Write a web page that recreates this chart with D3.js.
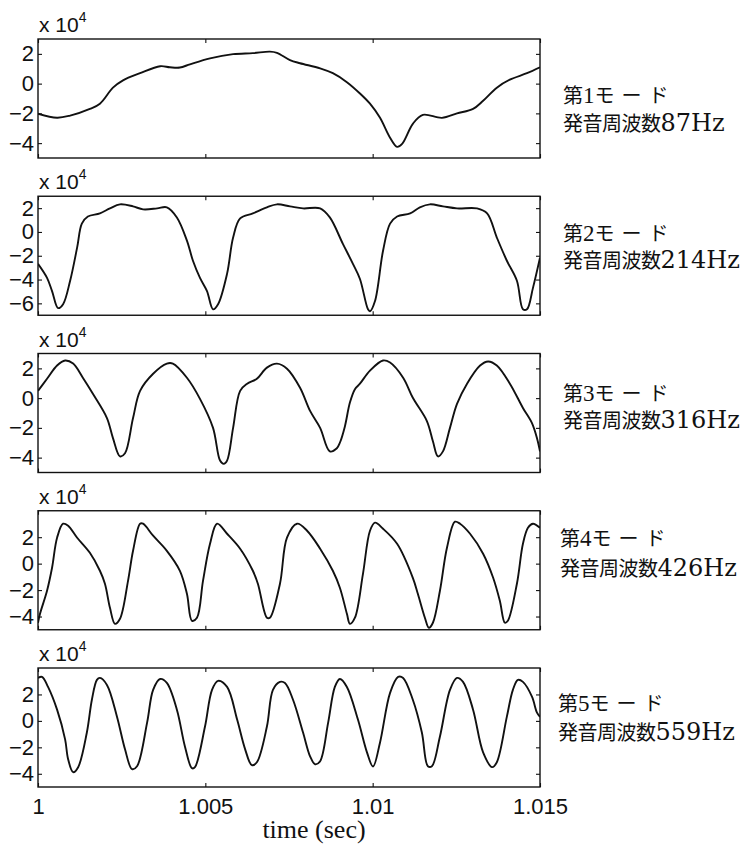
<!DOCTYPE html>
<html>
<head>
<meta charset="utf-8">
<script src="https://d3js.org/d3.v7.min.js"></script>
<style>
  body { margin: 0; background: #fff; }
  .frame { display: block; }
  .axis text { font-family: "Liberation Sans", Arial, sans-serif; font-size: 22px; fill: #111; }
  .axis line { stroke: #111; stroke-width: 1.1; }
  .box { fill: none; stroke: #111; stroke-width: 1.4; }
  .wave { fill: none; stroke: #111; stroke-width: 1.9; stroke-linejoin: round; }
</style>
</head>
<body>
<div id="plot"></div>
<script>
const FRAME_WIDTH = 751;
const FRAME_HEIGHT = 845;
const MARGINS = {left: 38, top: 39};
const VIS_WIDTH = 502;
const PANEL_HEIGHT = 119;
const PANEL_STEP = 157.25;

// time: ms after t = 1 s, values: units of 10^4
const mode1Time = [0, 0.57, 0.96, 1.55, 1.85, 2.24, 2.54, 3.05, 3.65, 3.94, 4.24, 4.54, 5.14, 5.83, 6.42, 6.93, 7.14, 7.53, 7.83, 8.43, 8.81, 9.23, 9.62, 9.92, 10.22, 10.52, 10.73, 10.88, 11.20, 11.50, 12.07, 12.52, 13.00, 13.30, 13.71, 14.10, 14.61, 15.00];
const mode1Value = [-2.02, -2.29, -2.15, -1.7, -1.35, -0.27, 0.22, 0.7, 1.17, 1.1, 1.08, 1.3, 1.7, 1.98, 2.05, 2.15, 2.07, 1.58, 1.37, 1.03, 0.7, 0.1, -0.66, -1.35, -2.3, -3.64, -4.25, -4.05, -2.7, -2.1, -2.3, -2.0, -1.7, -1.15, -0.27, 0.27, 0.7, 1.1];

const mode2Time = [0, 0.27, 0.42, 0.60, 0.75, 0.96, 1.17, 1.31, 1.49, 1.85, 2.15, 2.45, 2.84, 3.14, 3.56, 3.85, 4.15, 4.45, 4.63, 4.84, 5.05, 5.23, 5.38, 5.65, 5.83, 6.04, 6.42, 6.84, 7.14, 7.53, 7.92, 8.43, 8.72, 9.11, 9.41, 9.62, 9.86, 9.92, 10.07, 10.31, 10.52, 10.73, 11.12, 11.41, 11.71, 12.10, 12.52, 13.12, 13.42, 13.71, 14.01, 14.31, 14.49, 14.61, 14.79, 15.00];
const mode2Value = [-2.68, -3.86, -4.97, -6.4, -6.07, -4.1, -1.3, 0.7, 1.3, 1.56, 1.98, 2.32, 2.15, 1.9, 1.98, 2.07, 1.22, -0.73, -2.42, -3.86, -4.97, -6.5, -6.07, -3.5, -0.47, 1.14, 1.56, 2.07, 2.32, 2.15, 1.98, 1.98, 1.22, -1.0, -2.68, -3.95, -6.5, -6.66, -5.8, -1.58, 0.7, 1.3, 1.56, 2.07, 2.32, 2.15, 1.98, 1.98, 1.56, -0.47, -2.42, -4.1, -6.5, -6.5, -4.7, -2.17];

const mode3Time = [0, 0.27, 0.57, 0.81, 1.05, 1.34, 1.64, 2.06, 2.24, 2.45, 2.60, 2.84, 3.05, 3.44, 3.85, 4.03, 4.45, 4.84, 5.23, 5.44, 5.55, 5.65, 5.83, 6.04, 6.25, 6.54, 6.84, 7.14, 7.44, 7.83, 8.13, 8.43, 8.72, 8.93, 9.02, 9.17, 9.32, 9.47, 9.62, 9.92, 10.31, 10.52, 10.91, 11.20, 11.62, 11.80, 11.95, 12.10, 12.31, 12.52, 12.82, 13.21, 13.45, 13.71, 14.10, 14.49, 14.76, 14.91, 15.00];
const mode3Value = [0.49, 1.3, 2.19, 2.53, 2.32, 1.37, 0.29, -1.34, -2.69, -3.92, -3.71, -1.34, 0.49, 1.64, 2.32, 2.32, 1.37, -0.05, -2.0, -4.2, -4.42, -4.2, -2.0, 0.49, 0.97, 1.3, 2.05, 2.32, 1.98, 0.7, -0.86, -2.0, -3.58, -3.37, -3.0, -1.9, -0.3, 0.6, 0.97, 1.85, 2.53, 2.39, 1.37, 0.02, -1.54, -2.9, -3.92, -3.58, -2.0, -0.39, 0.97, 2.19, 2.46, 2.19, 0.97, -0.66, -1.68, -2.69, -3.58];

const mode4Time = [0, 0.06, 0.27, 0.42, 0.57, 0.75, 0.90, 1.17, 1.55, 1.85, 2.00, 2.15, 2.30, 2.45, 2.69, 2.84, 3.05, 3.14, 3.44, 3.85, 4.24, 4.45, 4.60, 4.75, 4.93, 5.14, 5.35, 5.65, 6.04, 6.42, 6.57, 6.84, 6.93, 7.23, 7.44, 7.74, 8.04, 8.43, 8.81, 9.02, 9.23, 9.32, 9.47, 9.71, 9.92, 10.07, 10.31, 10.73, 11.20, 11.35, 11.56, 11.68, 11.80, 12.01, 12.22, 12.46, 12.61, 12.91, 13.30, 13.60, 13.80, 13.95, 14.04, 14.31, 14.49, 14.64, 14.79, 15.00];
const mode4Value = [-4.47, -3.79, -2.05, -0.31, 1.96, 3.02, 2.87, 1.96, 0.82, -0.54, -1.52, -3.34, -4.55, -4.17, -1.3, 0.97, 3.02, 3.02, 2.11, 0.97, -0.54, -2.28, -4.32, -4.09, -1.3, 1.5, 3.02, 2.26, 1.13, -0.54, -1.52, -4.09, -4.09, -1.52, 1.96, 3.02, 2.49, 1.13, -0.54, -1.82, -3.79, -4.55, -4.09, -0.77, 2.49, 3.1, 2.64, 1.5, -1.07, -2.28, -4.09, -4.85, -4.47, -2.05, 1.2, 3.17, 3.02, 2.26, 0.75, -1.07, -2.81, -4.47, -4.32, -1.52, 1.5, 2.71, 3.02, 2.71];

const mode5Time = [0, 0.12, 0.30, 0.57, 0.81, 0.90, 1.05, 1.20, 1.46, 1.61, 1.76, 1.85, 2.06, 2.36, 2.60, 2.81, 2.96, 3.26, 3.44, 3.65, 3.85, 4.15, 4.39, 4.60, 4.69, 4.99, 5.20, 5.38, 5.65, 5.95, 6.19, 6.39, 6.54, 6.84, 7.02, 7.23, 7.38, 7.62, 7.92, 8.13, 8.28, 8.43, 8.67, 8.87, 9.02, 9.23, 9.56, 9.83, 10.01, 10.22, 10.52, 10.76, 10.91, 11.20, 11.47, 11.65, 11.77, 12.01, 12.31, 12.52, 12.70, 13.00, 13.30, 13.57, 13.71, 14.01, 14.19, 14.34, 14.49, 14.76, 14.91, 15.00];
const mode5Value = [3.25, 3.33, 2.57, 0.85, -1.4, -2.9, -3.88, -3.5, -0.88, 1.6, 3.1, 3.25, 2.72, 0.32, -2.15, -3.65, -3.43, -0.13, 2.35, 3.17, 2.87, 0.85, -1.93, -3.58, -3.5, -0.43, 2.35, 3.03, 2.57, 0.1, -2.15, -3.35, -3.13, -0.43, 2.35, 2.95, 2.87, 1.6, -0.88, -2.68, -3.28, -3.05, -0.13, 2.57, 3.17, 2.57, 0.1, -2.38, -3.45, -1.63, 2.12, 3.33, 3.25, 1.6, -0.88, -3.43, -3.43, -1.18, 2.35, 3.25, 2.95, 0.85, -2.38, -3.5, -3.13, 0.32, 2.35, 3.1, 2.95, 1.83, 0.62, 0.3];

const modeTimes = [mode1Time, mode2Time, mode3Time, mode4Time, mode5Time];
const modeValues = [mode1Value, mode2Value, mode3Value, mode4Value, mode5Value];
const modeNumbers = ["1", "2", "3", "4", "5"];
const modeFreqs = ["87", "214", "316", "426", "559"];

const yDomains = [[-5, 3], [-7, 3], [-5, 3], [-5, 4], [-5, 4]];
const yTicks = [[-4, -2, 0, 2], [-6, -4, -2, 0, 2], [-4, -2, 0, 2], [-4, -2, 0, 2], [-4, -2, 0, 2]];
const xTicks = [1, 1.005, 1.01, 1.015];
const xTickLabels = ["1", "1.005", "1.01", "1.015"];

// label placement per panel: left x and the two baselines
const LABEL_X = [563, 563, 563, 560, 558];
const LABEL_Y = [[103, 131], [241, 268], [401, 428], [546, 576], [711, 740]];

const X_SCALE = d3.scaleLinear()
                    .domain([1, 1.015])
                    .range([0, VIS_WIDTH]);

const FRAME =
d3.select('#plot')
    .append("svg")
        .attr("width", FRAME_WIDTH)
        .attr("height", FRAME_HEIGHT)
        .attr("class", "frame");

const fmt = (d) => (d < 0 ? "\u2212" + Math.abs(d) : "" + d);

modeTimes.forEach((times, i) => {
    const top = MARGINS.top + i * PANEL_STEP;
    const last = i === modeTimes.length - 1;

    const Y_SCALE = d3.scaleLinear()
                        .domain(yDomains[i])
                        .range([PANEL_HEIGHT, 0]);

    const g = FRAME.append("g")
        .attr("transform", "translate(" + MARGINS.left + "," + top + ")");

    g.append("clipPath")
        .attr("id", "clip" + i)
      .append("rect")
        .attr("width", VIS_WIDTH)
        .attr("height", PANEL_HEIGHT);

    const points = times.map((t, k) => ({t: 1 + t / 1000, v: modeValues[i][k]}));

    g.append("path")
        .datum(points)
        .attr("class", "wave")
        .attr("clip-path", "url(#clip" + i + ")")
        .attr("d", d3.line()
            .x((d) => X_SCALE(d.t))
            .y((d) => Y_SCALE(d.v))
            .curve(d3.curveCatmullRom.alpha(0.5)));

    // inward ticks on all four sides
    g.append("g")
        .attr("class", "axis")
        .call(d3.axisLeft(Y_SCALE).tickValues(yTicks[i]).tickSizeInner(-4).tickSizeOuter(0)
            .tickPadding(4).tickFormat(fmt));
    g.append("g")
        .attr("class", "axis")
        .attr("transform", "translate(" + VIS_WIDTH + ",0)")
        .call(d3.axisRight(Y_SCALE).tickValues(yTicks[i]).tickSizeInner(-4).tickSizeOuter(0)
            .tickFormat(""));
    g.append("g")
        .attr("class", "axis")
        .call(d3.axisTop(X_SCALE).tickValues(xTicks).tickSizeInner(-4).tickSizeOuter(0)
            .tickFormat(""));
    g.append("g")
        .attr("class", "axis")
        .attr("transform", "translate(0," + PANEL_HEIGHT + ")")
        .call(d3.axisBottom(X_SCALE).tickValues(xTicks).tickSizeInner(-4).tickSizeOuter(0)
            .tickPadding(11)
            .tickFormat((d, k) => (last ? xTickLabels[k] : "")));

    g.selectAll(".domain").remove();

    g.append("rect")
        .attr("class", "box")
        .attr("width", VIS_WIDTH)
        .attr("height", PANEL_HEIGHT);

    // exponent note
    const ex = g.append("text")
        .attr("x", 1)
        .attr("y", -7)
        .attr("font-family", "Liberation Sans, Arial, sans-serif")
        .attr("font-size", 21)
        .attr("fill", "#111");
    ex.append("tspan").text("x 10");
    ex.append("tspan")
        .attr("font-size", 14)
        .attr("dy", -10)
        .text("4");

    // mode label on the right
    const l1 = FRAME.append("text")
        .attr("x", LABEL_X[i])
        .attr("y", LABEL_Y[i][0])
        .attr("fill", "#111");
    l1.append("tspan")
        .attr("font-family", "Noto Sans CJK JP")
        .attr("font-size", 20)
        .text("第");
    l1.append("tspan")
        .attr("font-family", "Liberation Serif, serif")
        .attr("font-size", 23)
        .text(modeNumbers[i]);
    l1.append("tspan")
        .attr("font-family", "Noto Sans CJK JP")
        .attr("font-size", 20)
        .attr("letter-spacing", 7)
        .text("モード");

    const l2 = FRAME.append("text")
        .attr("x", LABEL_X[i])
        .attr("y", LABEL_Y[i][1])
        .attr("fill", "#111");
    l2.append("tspan")
        .attr("font-family", "Noto Sans CJK JP")
        .attr("font-size", 20)
        .attr("letter-spacing", -0.5)
        .text("発音周波数");
    l2.append("tspan")
        .attr("font-family", "DejaVu Serif, serif")
        .attr("font-size", 24)
        .text(modeFreqs[i] + "Hz");
});

FRAME.append("text")
    .attr("x", 314)
    .attr("y", 838)
    .attr("text-anchor", "middle")
    .attr("font-family", "Liberation Serif, serif")
    .attr("font-size", 26)
    .attr("fill", "#111")
    .text("time (sec)");
</script>
</body>
</html>
